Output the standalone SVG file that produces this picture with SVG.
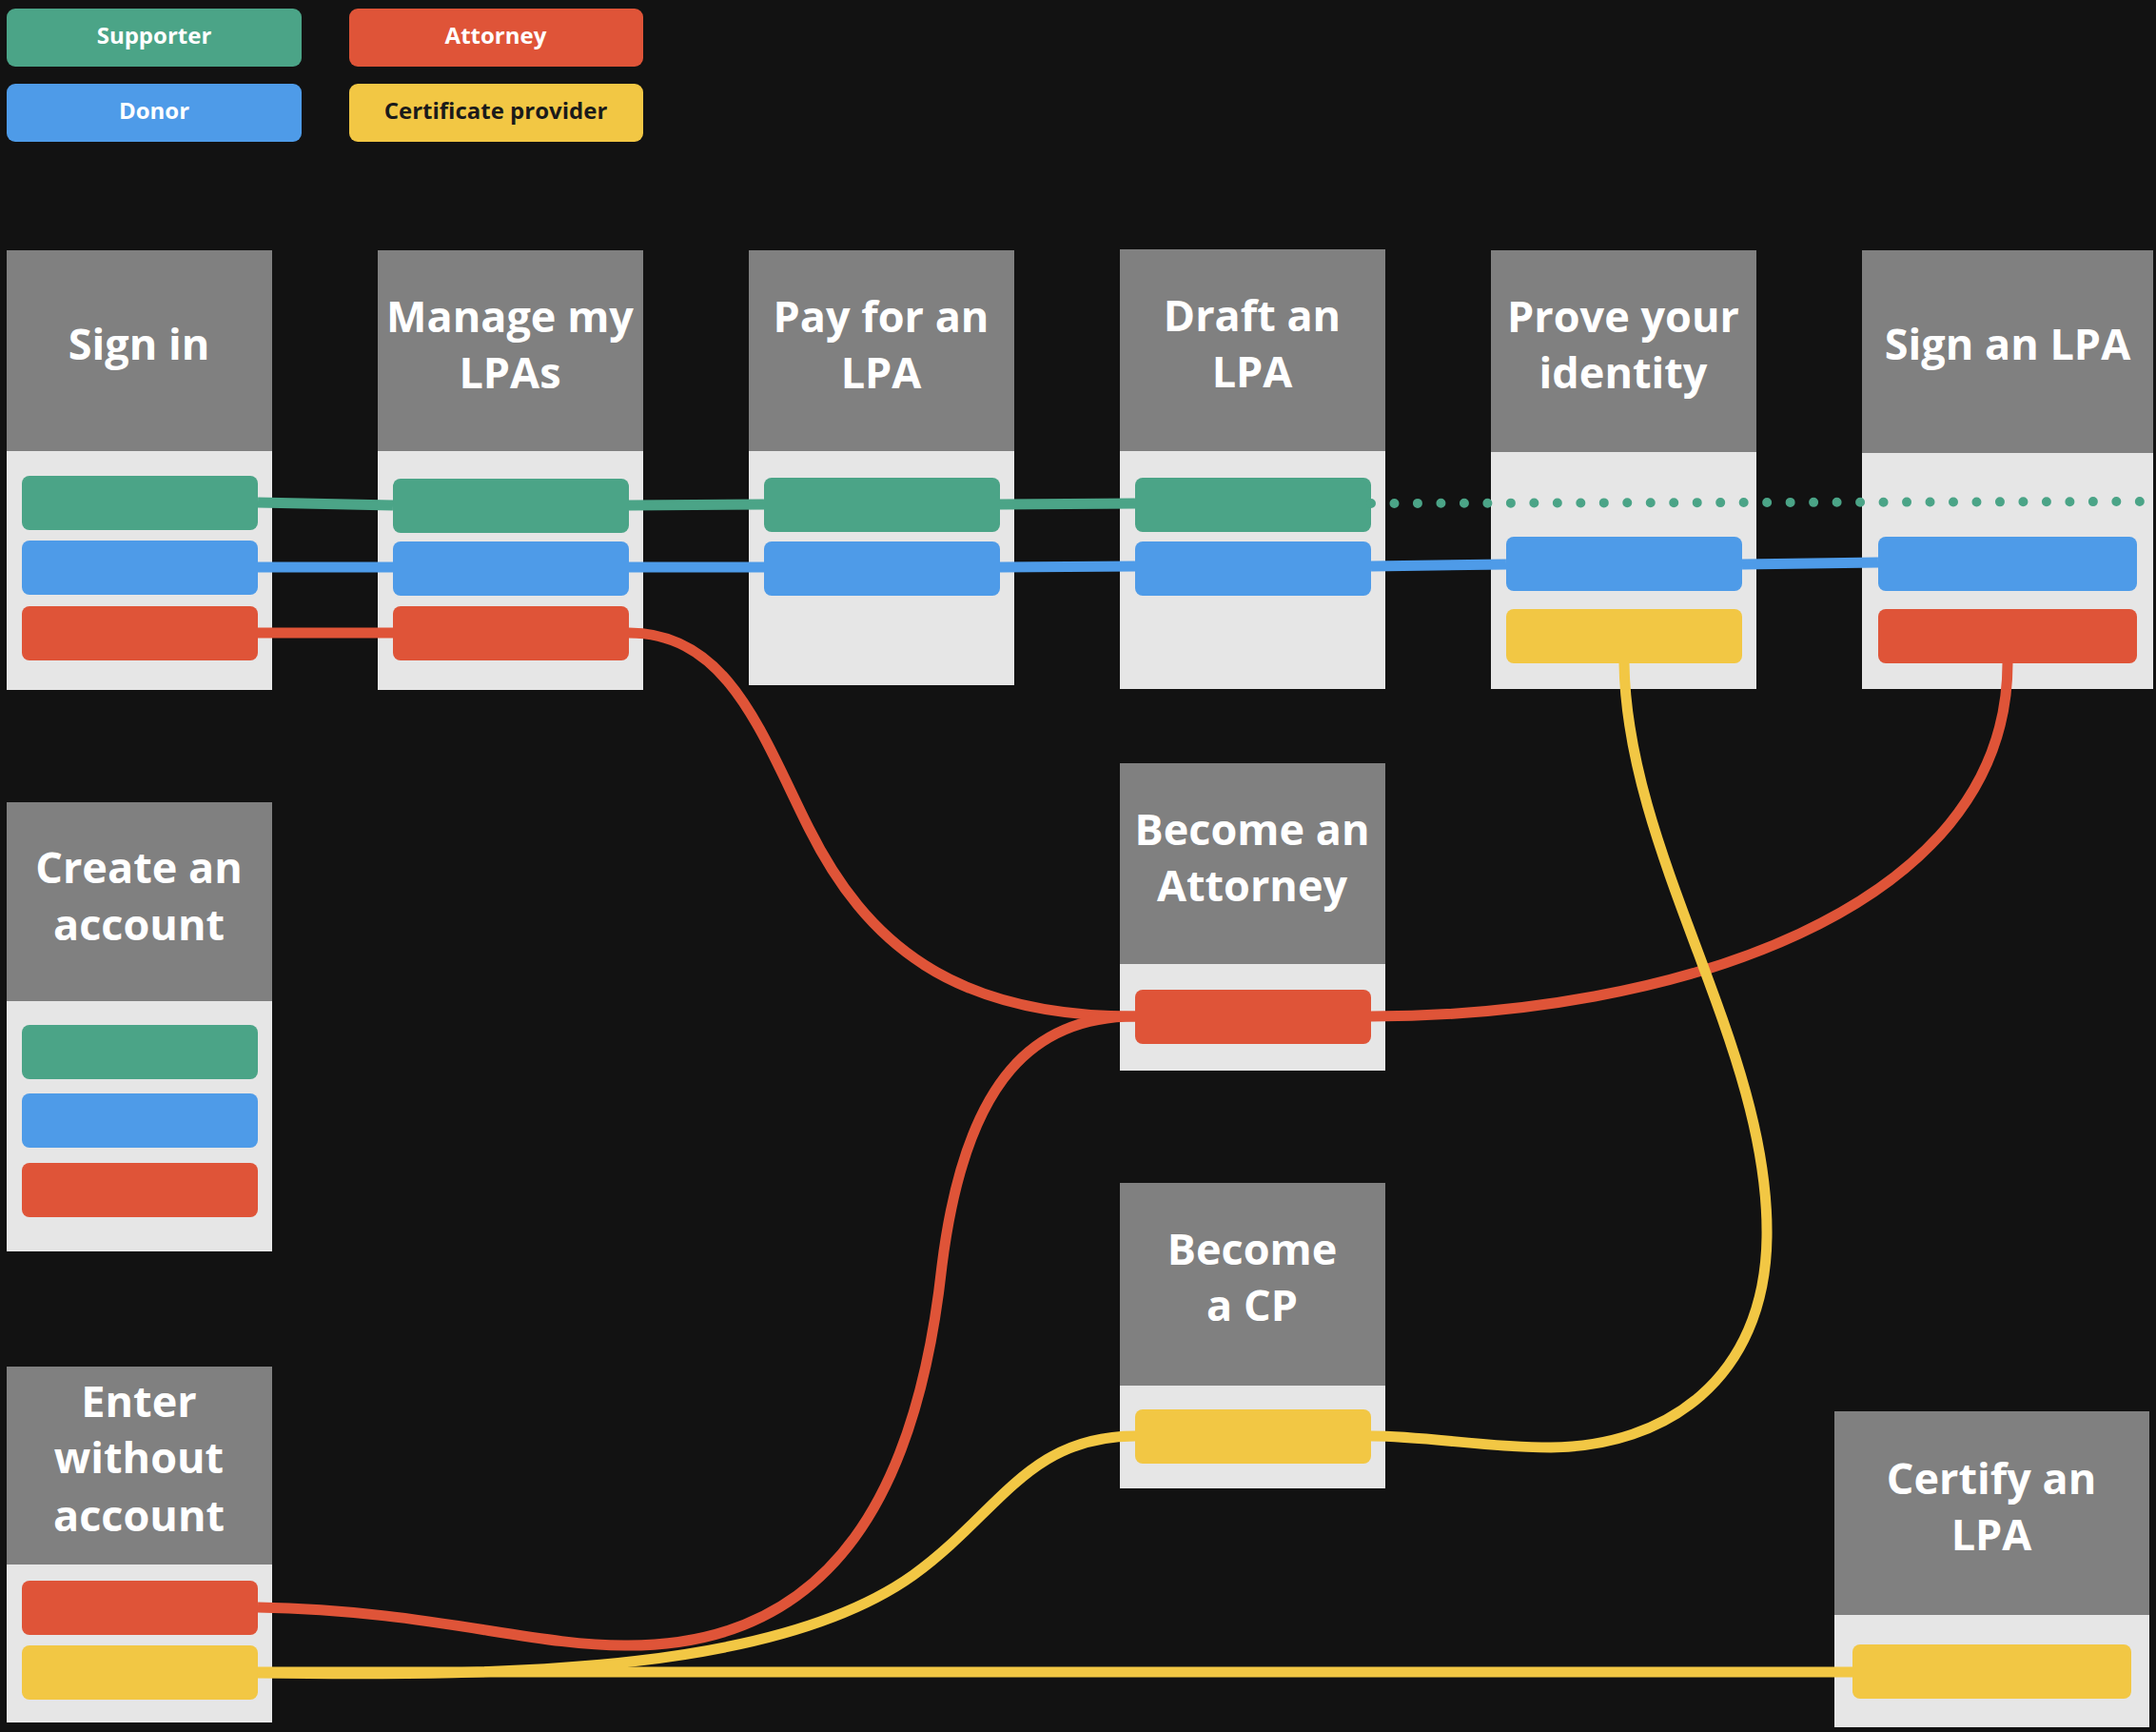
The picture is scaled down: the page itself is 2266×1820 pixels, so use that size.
<svg xmlns="http://www.w3.org/2000/svg" width="2266" height="1820" viewBox="0 0 2266 1820">
<style>
.bg{fill:#121212}
.hd{fill:#808080}
.bd{fill:#e6e6e6}
.g{fill:#4ba487}.b{fill:#4e9be8}.r{fill:#df5438}.y{fill:#f2c744}
.t{font-family:"Open Sans","Noto Sans","DejaVu Sans",sans-serif;font-weight:700;font-size:45px;fill:#ffffff;text-anchor:middle}
.lt{font-family:"Open Sans","Noto Sans","DejaVu Sans",sans-serif;font-weight:700;font-size:24px;fill:#ffffff;text-anchor:middle}
.ln{fill:none;stroke-width:11;stroke-linecap:butt}
.sg{stroke:#4ba487}.sb{stroke:#4e9be8}.sr{stroke:#df5438}.sy{stroke:#f2c744}
</style>
<rect class="bg" x="0" y="0" width="2266" height="1820"/>

<g id="legend">
<rect class="g" x="7" y="9" width="310" height="61" rx="9"/>
<text class="lt" x="162" y="46">Supporter</text>
<rect class="r" x="367" y="9" width="309" height="61" rx="9"/>
<text class="lt" x="521" y="46">Attorney</text>
<rect class="b" x="7" y="88" width="310" height="61" rx="9"/>
<text class="lt" x="162" y="125">Donor</text>
<rect class="y" x="367" y="88" width="309" height="61" rx="9"/>
<text class="lt" x="521" y="125" style="fill:#1a1a1a">Certificate provider</text>
</g>

<g id="sign-in">
<rect class="hd" x="7" y="263" width="279" height="211"/>
<rect class="bd" x="7" y="474" width="279" height="251"/>
<text class="t" x="146" y="378">Sign in</text>
<rect class="g" x="23" y="500" width="248" height="57" rx="8"/>
<rect class="b" x="23" y="568" width="248" height="57" rx="8"/>
<rect class="r" x="23" y="637" width="248" height="57" rx="8"/>
</g>

<g id="manage-my-lpas">
<rect class="hd" x="397" y="263" width="279" height="211"/>
<rect class="bd" x="397" y="474" width="279" height="251"/>
<text class="t" x="536" y="349">Manage my</text>
<text class="t" x="536" y="408">LPAs</text>
<rect class="g" x="413" y="503" width="248" height="57" rx="8"/>
<rect class="b" x="413" y="569" width="248" height="57" rx="8"/>
<rect class="r" x="413" y="637" width="248" height="57" rx="8"/>
</g>

<g id="pay-for-an-lpa">
<rect class="hd" x="787" y="263" width="279" height="211"/>
<rect class="bd" x="787" y="474" width="279" height="246"/>
<text class="t" x="926" y="349">Pay for an</text>
<text class="t" x="926" y="408">LPA</text>
<rect class="g" x="803" y="502" width="248" height="57" rx="8"/>
<rect class="b" x="803" y="569" width="248" height="57" rx="8"/>
</g>

<g id="draft-an-lpa">
<rect class="hd" x="1177" y="262" width="279" height="212"/>
<rect class="bd" x="1177" y="474" width="279" height="250"/>
<text class="t" x="1316" y="348">Draft an</text>
<text class="t" x="1316" y="407">LPA</text>
<rect class="g" x="1193" y="502" width="248" height="57" rx="8"/>
<rect class="b" x="1193" y="569" width="248" height="57" rx="8"/>
</g>

<g id="prove-your-identity">
<rect class="hd" x="1567" y="263" width="279" height="212"/>
<rect class="bd" x="1567" y="475" width="279" height="249"/>
<text class="t" x="1706" y="349">Prove your</text>
<text class="t" x="1706" y="408">identity</text>
<rect class="b" x="1583" y="564" width="248" height="57" rx="8"/>
<rect class="y" x="1583" y="640" width="248" height="57" rx="8"/>
</g>

<g id="sign-an-lpa">
<rect class="hd" x="1957" y="263" width="306" height="213"/>
<rect class="bd" x="1957" y="476" width="306" height="248"/>
<text class="t" x="2110" y="378">Sign an LPA</text>
<rect class="b" x="1974" y="564" width="272" height="57" rx="8"/>
<rect class="r" x="1974" y="640" width="272" height="57" rx="8"/>
</g>

<g id="create-an-account">
<rect class="hd" x="7" y="843" width="279" height="209"/>
<rect class="bd" x="7" y="1052" width="279" height="263"/>
<text class="t" x="146" y="928">Create an</text>
<text class="t" x="146" y="988">account</text>
<rect class="g" x="23" y="1077" width="248" height="57" rx="8"/>
<rect class="b" x="23" y="1149" width="248" height="57" rx="8"/>
<rect class="r" x="23" y="1222" width="248" height="57" rx="8"/>
</g>

<g id="enter-without-account">
<rect class="hd" x="7" y="1436" width="279" height="208"/>
<rect class="bd" x="7" y="1644" width="279" height="166"/>
<text class="t" x="146" y="1489">Enter</text>
<text class="t" x="146" y="1548">without</text>
<text class="t" x="146" y="1609">account</text>
<rect class="r" x="23" y="1661" width="248" height="57" rx="8"/>
<rect class="y" x="23" y="1729" width="248" height="57" rx="8"/>
</g>

<g id="become-an-attorney">
<rect class="hd" x="1177" y="802" width="279" height="211"/>
<rect class="bd" x="1177" y="1013" width="279" height="112"/>
<text class="t" x="1316" y="888">Become an</text>
<text class="t" x="1316" y="947">Attorney</text>
<rect class="r" x="1193" y="1040" width="248" height="57" rx="8"/>
</g>

<g id="become-a-cp">
<rect class="hd" x="1177" y="1243" width="279" height="213"/>
<rect class="bd" x="1177" y="1456" width="279" height="108"/>
<text class="t" x="1316" y="1329">Become</text>
<text class="t" x="1316" y="1388">a CP</text>
<rect class="y" x="1193" y="1481" width="248" height="57" rx="8"/>
</g>

<g id="certify-an-lpa">
<rect class="hd" x="1928" y="1483" width="331" height="214"/>
<rect class="bd" x="1928" y="1697" width="331" height="118"/>
<text class="t" x="2093" y="1570">Certify an</text>
<text class="t" x="2093" y="1629">LPA</text>
<rect class="y" x="1947" y="1728" width="293" height="57" rx="8"/>
</g>

<g id="connectors">
<path class="ln sg" d="M271,528 L413,531"/>
<path class="ln sg" d="M661,531 L803,530"/>
<path class="ln sg" d="M1051,530 L1193,529"/>
<path class="ln sg" d="M1441,529 L2249,527" style="stroke-width:10;stroke-linecap:round;stroke-dasharray:0 24.48"/>
<path class="ln sb" d="M271,596 L413,596"/>
<path class="ln sb" d="M661,596 L803,596"/>
<path class="ln sb" d="M1051,596 L1193,595"/>
<path class="ln sb" d="M1441,595 L1583,593"/>
<path class="ln sb" d="M1831,593 L1974,591"/>
<path class="ln sr" d="M271,665 L413,665"/>
<path class="ln sr" d="M661,665 C765,665 800,770 850,870 C910,990 1000,1068 1193,1068"/>
<path class="ln sr" d="M2110,697 C2110,960 1750,1068 1441,1068"/>
<path class="ln sr" d="M271,1689 C450,1692 560,1730 660,1729 C880,1729 965,1560 990,1330 C1015,1130 1090,1068 1193,1068"/>
<path class="ln sy" d="M1707,697 C1710,900 1860,1100 1857,1300 C1855,1450 1750,1520 1630,1521 C1560,1521 1500,1509 1441,1509"/>
<path class="ln sy" d="M271,1758 C550,1762 820,1755 960,1655 C1050,1590 1080,1509 1193,1509"/>
<path class="ln sy" d="M271,1757 L1947,1757"/>
</g>
</svg>
